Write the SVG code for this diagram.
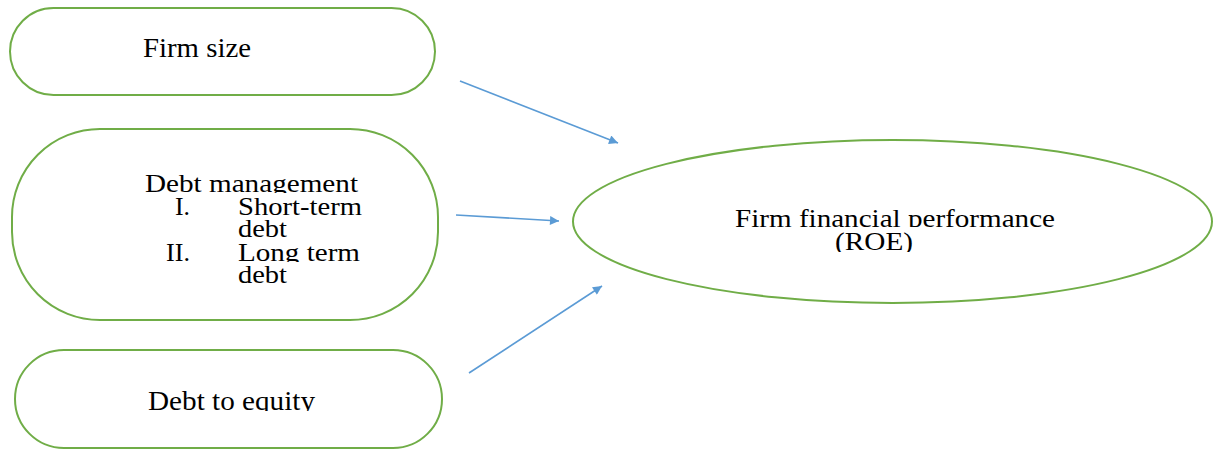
<svg xmlns="http://www.w3.org/2000/svg" width="1213" height="450" viewBox="0 0 1213 450">
  <style>
    .node { fill: #ffffff; stroke: #70ad47; stroke-width: 2; }
    .lbl { font-family: "Liberation Serif", "Times New Roman", serif; fill: #000000; }
    .conn { stroke: #5b9bd5; stroke-width: 1.6; fill: none; marker-end: url(#arrow); }
  </style>
  <defs>
    <marker id="arrow" viewBox="0 0 10 10" refX="10" refY="5" markerWidth="13" markerHeight="9" markerUnits="userSpaceOnUse" orient="auto">
      <path d="M0,0 L10,5 L0,10 Z" fill="#5b9bd5"/>
    </marker>
    <!-- line boxes that trim the descenders, as the text frames do -->
    <clipPath id="clipDebtMgmt"><rect x="100" y="160" width="300" height="33"/></clipPath>
    <clipPath id="clipLong"><rect x="100" y="240" width="300" height="22"/></clipPath>
    <clipPath id="clipEquity"><rect x="100" y="380" width="300" height="31"/></clipPath>
    <clipPath id="clipPerf"><rect x="700" y="195" width="400" height="32"/></clipPath>
    <clipPath id="clipRoe"><rect x="800" y="228" width="150" height="24"/></clipPath>
  </defs>

  <g id="firm-size">
    <rect class="node" x="10" y="8" width="425" height="87" rx="43.5" ry="43.5"/>
    <text class="lbl" x="143" y="57" font-size="28" textLength="108" lengthAdjust="spacingAndGlyphs">Firm size</text>
  </g>

  <g id="debt-management">
    <rect class="node" x="12" y="129" width="426" height="191" rx="88" ry="88"/>
    <g clip-path="url(#clipDebtMgmt)">
      <text class="lbl" x="145" y="192" font-size="26" textLength="213" lengthAdjust="spacingAndGlyphs">Debt management</text>
    </g>
    <text class="lbl" x="175" y="215" font-size="26" textLength="15" lengthAdjust="spacingAndGlyphs">I.</text>
    <text class="lbl" x="238" y="215" font-size="26" textLength="124" lengthAdjust="spacingAndGlyphs">Short-term</text>
    <text class="lbl" x="238" y="237" font-size="26" textLength="49" lengthAdjust="spacingAndGlyphs">debt</text>
    <text class="lbl" x="166" y="261" font-size="26" textLength="24" lengthAdjust="spacingAndGlyphs">II.</text>
    <g clip-path="url(#clipLong)">
      <text class="lbl" x="238" y="261" font-size="26" textLength="122" lengthAdjust="spacingAndGlyphs">Long term</text>
    </g>
    <text class="lbl" x="238" y="283" font-size="26" textLength="49" lengthAdjust="spacingAndGlyphs">debt</text>
  </g>

  <g id="debt-to-equity">
    <rect class="node" x="15" y="350" width="427" height="98" rx="49" ry="49"/>
    <g clip-path="url(#clipEquity)">
      <text class="lbl" x="148" y="410" font-size="28" textLength="167" lengthAdjust="spacingAndGlyphs">Debt to equity</text>
    </g>
  </g>

  <g id="firm-performance">
    <ellipse class="node" cx="892.5" cy="221.5" rx="319.5" ry="81.5"/>
    <g clip-path="url(#clipPerf)">
      <text class="lbl" x="735" y="227" font-size="26" textLength="320" lengthAdjust="spacingAndGlyphs">Firm financial performance</text>
    </g>
    <g clip-path="url(#clipRoe)">
      <text class="lbl" x="835" y="250" font-size="26" textLength="78" lengthAdjust="spacingAndGlyphs">(ROE)</text>
    </g>
  </g>

  <g id="connectors">
    <line class="conn" x1="460" y1="81" x2="618" y2="143"/>
    <line class="conn" x1="456" y1="215" x2="559" y2="221"/>
    <line class="conn" x1="469" y1="373" x2="602" y2="286"/>
  </g>
</svg>
